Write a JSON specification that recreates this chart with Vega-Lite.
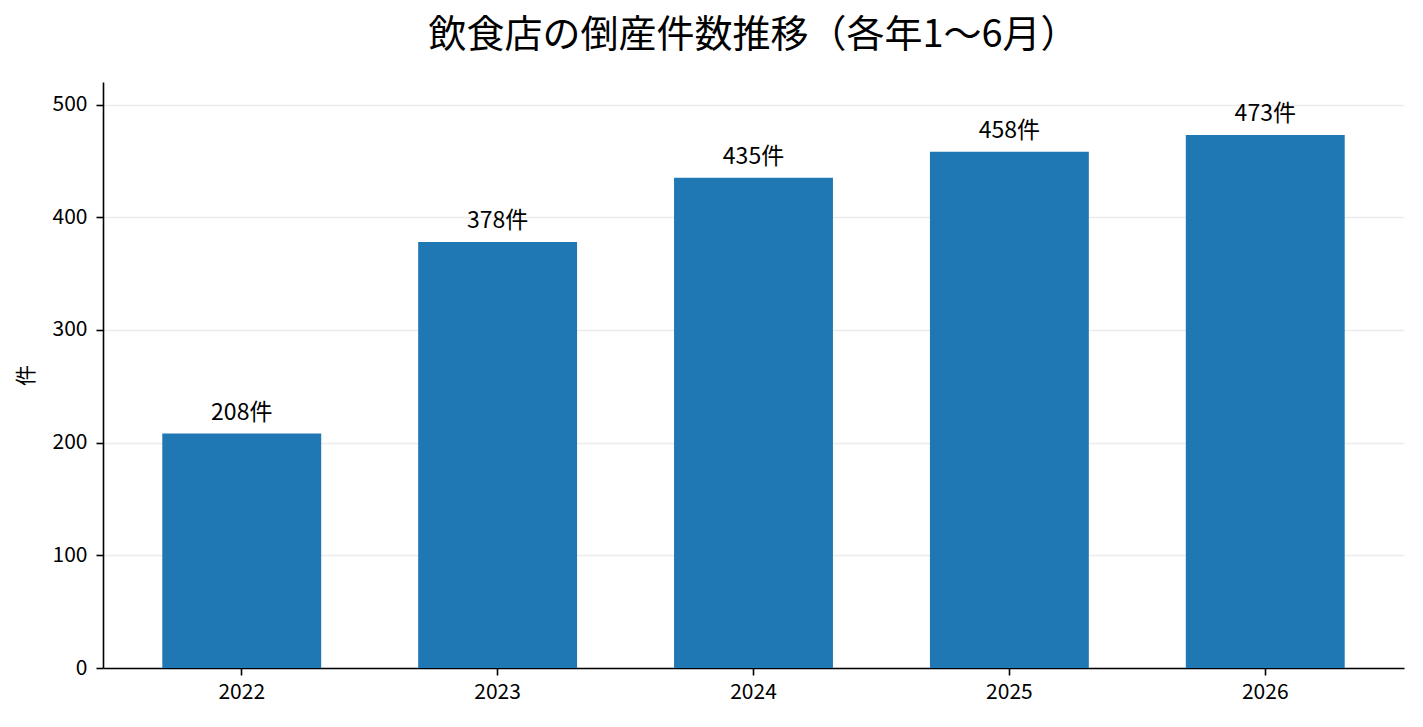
{
  "$schema": "https://vega.github.io/schema/vega-lite/v6.json",
  "autosize": {"type": "none"},
  "padding": {"left": 103, "top": 82, "right": 19, "bottom": 59},
  "width": 1301,
  "height": 586,
  "background": "white",
  "title": {
    "text": "飲食店の倒産件数推移（各年1〜6月）",
    "font": "Noto Sans CJK JP",
    "fontSize": 38,
    "fontWeight": "normal",
    "color": "black",
    "anchor": "middle",
    "frame": "group",
    "offset": 27
  },
  "data": {
    "values": [
      {"year": "2022", "count": 208, "label": "208件"},
      {"year": "2023", "count": 378, "label": "378件"},
      {"year": "2024", "count": 435, "label": "435件"},
      {"year": "2025", "count": 458, "label": "458件"},
      {"year": "2026", "count": 473, "label": "473件"}
    ]
  },
  "encoding": {
    "x": {
      "field": "year",
      "type": "nominal",
      "sort": null,
      "scale": {"paddingInner": 0.379, "paddingOuter": 0.2317},
      "axis": {
        "title": null,
        "labelAngle": 0,
        "grid": false,
        "labelFont": "Noto Sans CJK JP",
        "labelFontSize": 21,
        "labelColor": "black",
        "labelPadding": 6,
        "tickColor": "black",
        "tickSize": 7,
        "tickWidth": 1.6,
        "domainColor": "black",
        "domainWidth": 1.6
      }
    },
    "y": {
      "field": "count",
      "type": "quantitative",
      "scale": {"domain": [0, 520], "nice": false, "zero": true},
      "axis": {
        "title": "件",
        "titleFont": "Noto Sans CJK JP",
        "titleFontSize": 21,
        "titleFontWeight": "normal",
        "titleColor": "black",
        "titleAngle": -90,
        "titleBaseline": "middle",
        "titleAnchor": "middle",
        "titleX": -77,
        "titleY": 293,
        "values": [0, 100, 200, 300, 400, 500],
        "grid": true,
        "gridColor": "#ececec",
        "gridWidth": 1.6,
        "labelFont": "Noto Sans CJK JP",
        "labelFontSize": 21,
        "labelColor": "black",
        "labelPadding": 9,
        "tickColor": "black",
        "tickSize": 7,
        "tickWidth": 1.6,
        "domainColor": "black",
        "domainWidth": 1.6
      }
    }
  },
  "layer": [
    {
      "mark": {"type": "bar", "color": "#1f77b4"}
    },
    {
      "mark": {
        "type": "text",
        "font": "Noto Sans CJK JP",
        "fontSize": 23,
        "color": "black",
        "baseline": "alphabetic",
        "align": "center",
        "dy": -14
      },
      "encoding": {"text": {"field": "label", "type": "nominal"}}
    }
  ],
  "config": {
    "view": {"stroke": null},
    "font": "Noto Sans CJK JP"
  }
}
